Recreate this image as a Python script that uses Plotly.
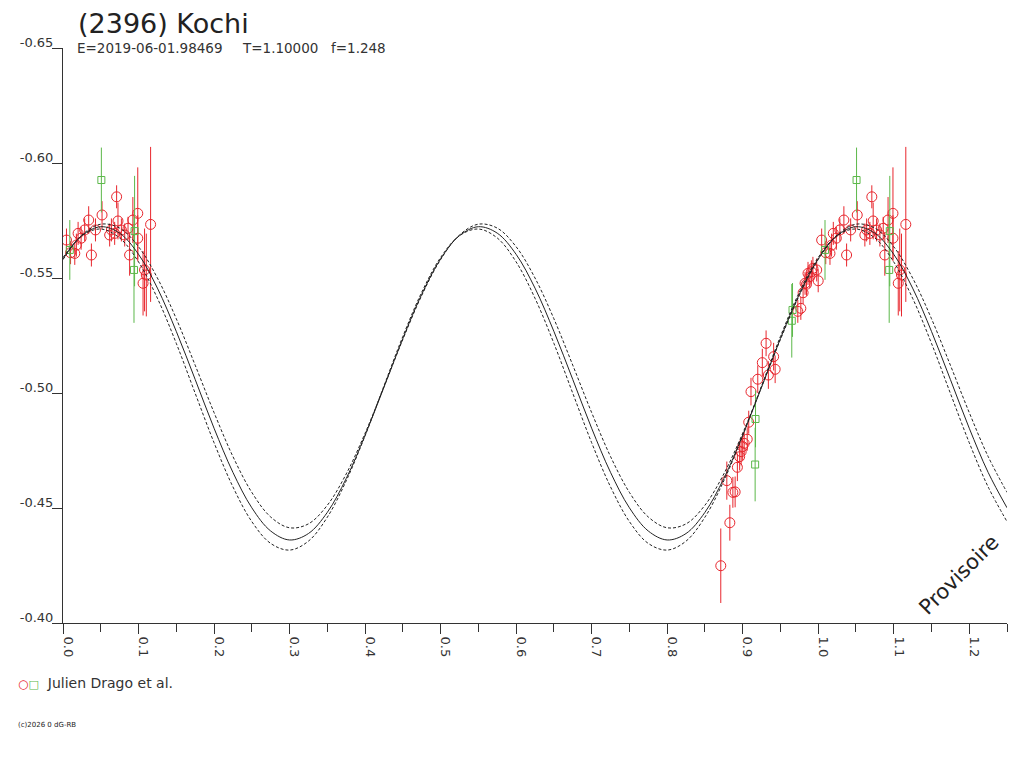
import numpy as np
import plotly.graph_objects as go

# Julien Drago et al. - red circles (phase, reduced mag, error)
red_phase = [0.871, 0.879, 0.883, 0.887, 0.890, 0.893, 0.896, 0.898, 0.900, 0.902,
             0.906, 0.908, 0.911, 0.920, 0.926, 0.931, 0.934, 0.941, 0.943, 0.973,
             0.977, 0.980, 0.9826, 0.9845, 0.9865, 0.989, 0.991, 0.993, 0.998, 1.000,
             1.0046, 1.010, 1.0156, 1.0177, 1.020, 1.024, 1.0287, 1.034, 1.0376, 1.043,
             1.0517, 1.0618, 1.0641, 1.0684, 1.071, 1.0728, 1.0773, 1.0817, 1.0861, 1.0882,
             1.0925, 1.099, 1.099, 1.106, 1.108, 1.1103, 1.116]
red_mag = [-0.4249, -0.4619, -0.4436, -0.4568, -0.4570, -0.4677, -0.4723, -0.4745, -0.4767, -0.4781,
           -0.4799, -0.4873, -0.5006, -0.5060, -0.5132, -0.5216, -0.5078, -0.5158, -0.5103, -0.5355,
           -0.5368, -0.5436, -0.5477, -0.5473, -0.5520, -0.5506, -0.5527, -0.5542, -0.5535, -0.5488,
           -0.5665, -0.5610, -0.5607, -0.5643, -0.5694, -0.5673, -0.5709, -0.5752, -0.5600, -0.5709,
           -0.5774, -0.5687, -0.5709, -0.5694, -0.5853, -0.5748, -0.5709, -0.5687, -0.5716, -0.5600,
           -0.5752, -0.5781, -0.5673, -0.5477, -0.5535, -0.5513, -0.5733]
red_err = [0.0162, 0.0083, 0.0078, 0.0067, 0.0067, 0.0060, 0.0060, 0.0060, 0.0060, 0.0050,
           0.0050, 0.0050, 0.0060, 0.0060, 0.0060, 0.0056, 0.0060, 0.0060, 0.0060, 0.0050,
           0.0050, 0.0050, 0.0050, 0.0050, 0.0050, 0.0050, 0.0050, 0.0050, 0.0050, 0.0050,
           0.0050, 0.0050, 0.0050, 0.0050, 0.0050, 0.0050, 0.0050, 0.0060, 0.0050, 0.0050,
           0.0060, 0.0050, 0.0050, 0.0050, 0.0050, 0.0080, 0.0050, 0.0050, 0.0050, 0.0090,
           0.0100, 0.0200, 0.0100, 0.0140, 0.0180, 0.0180, 0.0337]

# green squares
green_phase = [0.9165, 0.917, 0.965, 0.966, 1.009, 1.0508, 1.094, 1.0948]
green_mag = [-0.4689, -0.4887, -0.5314, -0.5361, -0.5622, -0.5926, -0.5535, -0.5704]
green_err = [0.016, 0.0123, 0.016, 0.0117, 0.013, 0.0141, 0.023, 0.024]

# fitted curve (solid) and its two bounds (dashed), sampled every 0.025 in phase
curve_phase = np.linspace(0, 1.25, 51)
fit_mid = [-0.5583, -0.5684, -0.5723, -0.5695, -0.5603, -0.5456, -0.5268, -0.5059, -0.4847, -0.4655,
           -0.4501, -0.4400, -0.4361, -0.4389, -0.4481, -0.4628, -0.4816, -0.5025, -0.5237, -0.5429,
           -0.5583, -0.5684, -0.5723, -0.5695, -0.5603, -0.5456, -0.5268, -0.5059, -0.4847, -0.4655,
           -0.4501, -0.4400, -0.4361, -0.4389, -0.4481, -0.4628, -0.4816, -0.5025, -0.5237, -0.5429,
           -0.5583, -0.5684, -0.5723, -0.5695, -0.5603, -0.5456, -0.5268, -0.5059, -0.4847, -0.4655,
           -0.4501]
fit_low = [-0.5580, -0.5687, -0.5734, -0.5717, -0.5636, -0.5500, -0.5323, -0.5121, -0.4915, -0.4724,
           -0.4568, -0.4461, -0.4414, -0.4431, -0.4512, -0.4648, -0.4825, -0.5027, -0.5233, -0.5424,
           -0.5580, -0.5687, -0.5734, -0.5717, -0.5636, -0.5500, -0.5323, -0.5121, -0.4915, -0.4724,
           -0.4568, -0.4461, -0.4414, -0.4431, -0.4512, -0.4648, -0.4825, -0.5027, -0.5233, -0.5424,
           -0.5580, -0.5687, -0.5734, -0.5717, -0.5636, -0.5500, -0.5323, -0.5121, -0.4915, -0.4724,
           -0.4568]
fit_high = [-0.5589, -0.5684, -0.5713, -0.5674, -0.5570, -0.5412, -0.5216, -0.4999, -0.4784, -0.4592,
            -0.4441, -0.4346, -0.4317, -0.4356, -0.4460, -0.4618, -0.4814, -0.5031, -0.5246, -0.5438,
            -0.5589, -0.5684, -0.5713, -0.5674, -0.5570, -0.5412, -0.5216, -0.4999, -0.4784, -0.4592,
            -0.4441, -0.4346, -0.4317, -0.4356, -0.4460, -0.4618, -0.4814, -0.5031, -0.5246, -0.5438,
            -0.5589, -0.5684, -0.5713, -0.5674, -0.5570, -0.5412, -0.5216, -0.4999, -0.4784, -0.4592,
            -0.4441]

x_ticks = [0.0, 0.1, 0.2, 0.3, 0.4, 0.5, 0.6, 0.7, 0.8, 0.9, 1.0, 1.1, 1.2]
x_tick_labels = ["0.0", "0.1", "0.2", "0.3", "0.4", "0.5", "0.6", "0.7", "0.8", "0.9", "1.0", "1.1", "1.2"]
x_minor_ticks = [0.05, 0.15, 0.25, 0.35, 0.45, 0.55, 0.65, 0.75, 0.85, 0.95, 1.05, 1.15, 1.25]
y_ticks = [-0.65, -0.60, -0.55, -0.50, -0.45, -0.40]
y_tick_labels = ["-0.65", "-0.60", "-0.55", "-0.50", "-0.45", "-0.40"]

RED = '#e8262d'
GREEN = '#5cb84a'
INK = '#222222'
FONT = 'DejaVu Sans'


def wrapped(phase, mag, err):
    # points past phase 1 are shown again one cycle earlier
    xs, ys, es = list(phase), list(mag), list(err)
    for p, m, e in zip(phase, mag, err):
        if p > 1.0:
            xs.append(p - 1.0)
            ys.append(m)
            es.append(e)
    return xs, ys, es


fig = go.Figure()

for ph, mg, er, col, sym, sz in [(red_phase, red_mag, red_err, RED, 'circle-open', 10),
                                  (green_phase, green_mag, green_err, GREEN, 'square-open', 7)]:
    xs, ys, es = wrapped(ph, mg, er)
    fig.add_trace(go.Scatter(x=xs, y=ys, mode='markers',
                             marker=dict(symbol=sym, size=sz, color=col, line=dict(width=1, color=col)),
                             error_y=dict(type='data', array=es, visible=True, width=0,
                                          thickness=1, color=col),
                             showlegend=False, hoverinfo='skip'))

fig.add_trace(go.Scatter(x=curve_phase, y=fit_low, mode='lines', line_shape='spline',
                         line=dict(color=INK, width=1, dash='3px,2px'), showlegend=False))
fig.add_trace(go.Scatter(x=curve_phase, y=fit_high, mode='lines', line_shape='spline',
                         line=dict(color=INK, width=1, dash='3px,2px'), showlegend=False))
fig.add_trace(go.Scatter(x=curve_phase, y=fit_mid, mode='lines', line_shape='spline',
                         line=dict(color=INK, width=1), showlegend=False))

axis_font = dict(family=FONT, size=13, color='#333333')
fig.update_xaxes(range=[0, 1.25], showgrid=False, zeroline=False, showline=True,
                 linecolor='#333333', linewidth=1, ticks='outside', ticklen=10,
                 tickcolor='#333333', tickmode='array', tickvals=x_ticks,
                 ticktext=x_tick_labels, tickangle=90, tickfont=axis_font,
                 ticklabelshift=5,
                 minor=dict(tickmode='array', tickvals=x_minor_ticks, ticks='outside',
                            ticklen=8, tickcolor='#333333'))
fig.update_yaxes(range=[-0.40, -0.65], showgrid=False, zeroline=False, showline=True,
                 linecolor='#333333', linewidth=1, ticks='outside', ticklen=10,
                 tickcolor='#333333', tickmode='array', tickvals=y_ticks,
                 ticktext=y_tick_labels, tickfont=axis_font, ticklabelshift=6,
                 ticklabelstandoff=-4)

annotations = [
    dict(text="E=2019-06-01.98469", x=0.0127, y=1.0),
    dict(text="T=1.10000", x=0.1873, y=1.0),
    dict(text="f=1.248", x=0.2823, y=1.0),
]
annotations = [dict(a, xref='paper', yref='paper', xanchor='left', yanchor='middle',
                    showarrow=False, font=dict(family=FONT, size=13.5, color='#333333'))
               for a in annotations]
annotations.append(dict(text="Provisoire", x=0.949, y=0.0835, xref='paper', yref='paper',
                        xanchor='center', yanchor='middle', textangle=-45, showarrow=False,
                        font=dict(family=FONT, size=21, color=INK)))
annotations.append(dict(text=(f"<span style='color:{RED};font-size:12px'>○</span>"
                              f"<span style='color:{GREEN};font-size:11px'>□</span>"
                              "  Julien Drago et al."),
                        x=-0.050, y=-0.1043, xref='paper', yref='paper',
                        xanchor='left', yanchor='middle', showarrow=False,
                        font=dict(family=FONT, size=14, color='#333333')))
annotations.append(dict(text="(c)2026 0 dG-RB", x=-0.0496, y=-0.1774, xref='paper',
                        yref='paper', xanchor='left', yanchor='middle', showarrow=False,
                        font=dict(family=FONT, size=7, color=INK)))

# the page body adds an 8px offset, so the figure is sized to fill the rest of the window
fig.update_layout(width=1016, height=760,
                  margin=dict(l=52, r=17, t=40, b=145),
                  paper_bgcolor='white', plot_bgcolor='white',
                  title=dict(text="(2396) Kochi", xref='container', yref='container',
                             x=0.0689, y=0.98, xanchor='left', yanchor='middle',
                             font=dict(family=FONT, size=27, color=INK)),
                  annotations=annotations)

fig.write_html("out.html")
